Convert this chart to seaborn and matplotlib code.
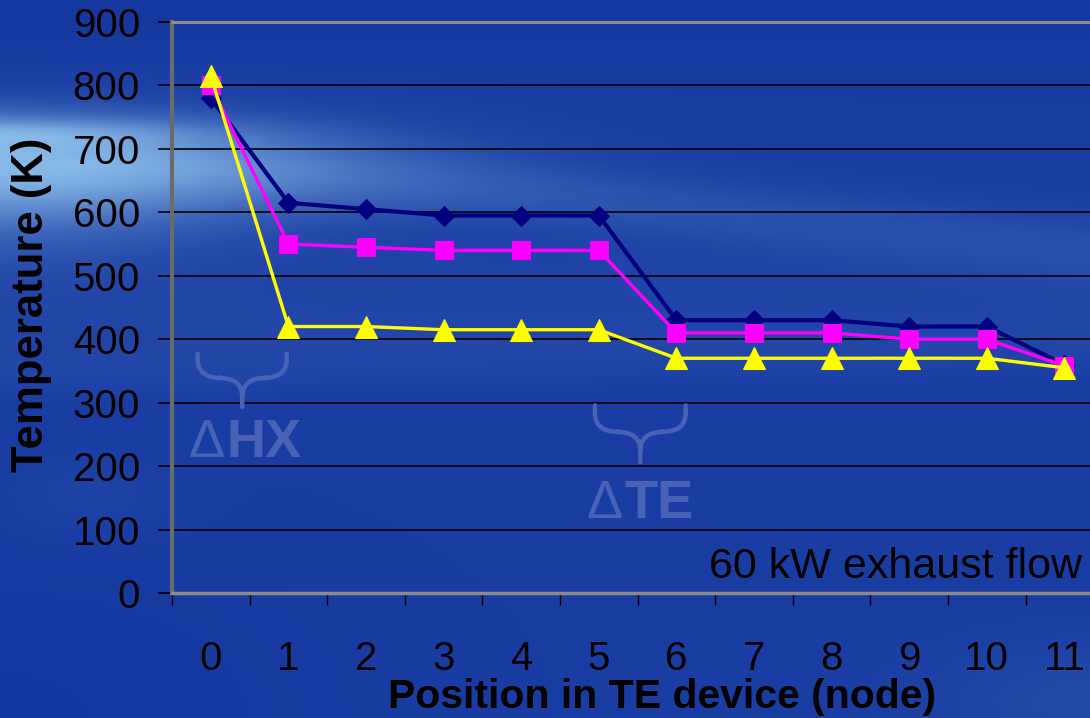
import numpy as np
import pandas as pd
import matplotlib
matplotlib.use("Agg")
import matplotlib.pyplot as plt
from matplotlib.path import Path
from matplotlib.patches import PathPatch
from matplotlib.ticker import FixedLocator
import seaborn as sns

# ---- data -------------------------------------------------------------
nodes = list(range(12))
temp_navy = [780, 615, 605, 595, 595, 595, 430, 430, 430, 420, 420, 360]
temp_magenta = [800, 550, 545, 540, 540, 540, 410, 410, 410, 400, 400, 358]
temp_yellow = [815, 420, 420, 415, 415, 415, 370, 370, 370, 370, 370, 355]
y_ticks = [0, 100, 200, 300, 400, 500, 600, 700, 800, 900]

sns.set_style("white")
plt.rcParams["font.family"] = ["Liberation Sans", "DejaVu Sans"]

W, H = 1090, 718
fig = plt.figure(figsize=(W / 100, H / 100), dpi=100)

# ---- slide-style blue background --------------------------------------
yy, xx = np.mgrid[0:H, 0:W].astype(float)
base = np.array([0.100, 0.240, 0.640])
light = np.array([0.64, 0.85, 0.98])

L = np.zeros((H, W))
# broad glow on the left, trailing off to the right
L += 0.66 * np.exp(-(xx / 330.0) ** 2 - ((yy - 170) / 50.0) ** 2)
L += 0.12 * np.exp(-(xx / 200.0) ** 2 - ((yy - 215) / 60.0) ** 2)
# thin bright streak along the top of the glow
L += 0.25 * np.exp(-(xx / 220.0) ** 2 - ((yy - 132) / 14.0) ** 2)
# diagonal light streak across the upper part
yc = 140 + 0.10 * xx
amp = 0.15 * np.clip(1.0 - (xx - 250) / 2500.0, 0.6, 1.0)
L += amp * np.exp(-((yy - yc) / 32.0) ** 2)
# softer lit band with a soft lower edge
edge = 392 - 0.025 * xx
L += 0.06 / (1 + np.exp(-(edge - yy) / 6.0)) / (1 + np.exp(-(yy - 250) / 25.0))
# faint patches lower down
L += 0.04 * np.exp(-((xx - 90) / 80.0) ** 2 - ((yy - 495) / 40.0) ** 2)
L += 0.08 * np.exp(-((xx - 1090) / 160.0) ** 2 - ((yy - 700) / 60.0) ** 2)
# slightly darker towards the top and bottom-left
L -= 0.03 * np.exp(-(yy / 60.0) ** 2)
L -= 0.04 * np.exp(-(xx / 300.0) ** 2 - ((yy - 718) / 150.0) ** 2)
L = np.clip(L, -0.2, 1.0)
img = base[None, None, :] + L[..., None] * (light - base)[None, None, :]
img = np.clip(img, 0, 1)

bg = fig.add_axes([0, 0, 1, 1], zorder=-1)
bg.imshow(img, aspect="auto", interpolation="bilinear")
bg.set_axis_off()

# ---- plot area --------------------------------------------------------
left_px, right_px, top_px, bot_px = 172, 172 + 12 * 77.6, 22, 593
ax = fig.add_axes([left_px / W, 1 - bot_px / H,
                   (right_px - left_px) / W, (bot_px - top_px) / H], zorder=1)
ax.set_facecolor("none")

df = pd.DataFrame({"node": nodes, "navy": temp_navy,
                   "magenta": temp_magenta, "yellow": temp_yellow})

sns.lineplot(data=df, x="node", y="navy", ax=ax, color="#000080", lw=3.0,
             marker="D", markersize=10.5, markeredgecolor="#000080", zorder=3)
sns.lineplot(data=df, x="node", y="magenta", ax=ax, color="#ff00ff", lw=2.4,
             marker="s", markersize=13, markeredgecolor="#ff00ff", zorder=4)
sns.lineplot(data=df, x="node", y="yellow", ax=ax, color="#ffff00", lw=2.4,
             marker="^", markersize=16, markeredgecolor="#ffff00", zorder=5)

ax.set_xlim(-0.5, 11.5)
ax.set_ylim(0, 900)
ax.yaxis.set_major_locator(FixedLocator(y_ticks))
ax.xaxis.set_major_locator(FixedLocator(nodes))
ax.xaxis.set_minor_locator(FixedLocator([n - 0.5 for n in nodes] + [11.5]))
ax.set_xticklabels([str(n) for n in nodes])

ax.tick_params(axis="y", which="major", direction="out", length=10, width=1.2,
               color="black", labelsize=29, pad=13, left=True)
ax.tick_params(axis="x", which="major", length=0, labelsize=29, pad=34,
               bottom=True)
ax.tick_params(axis="x", which="minor", direction="out", length=8.5,
               width=1.0, color="black", bottom=True)
for lab in ax.get_xticklabels() + ax.get_yticklabels():
    lab.set_color("black")

ax.grid(False)
ax.yaxis.grid(True, color="black", lw=1.2)
ax.set_axisbelow(True)

for side in ("top", "bottom", "left"):
    ax.spines[side].set_visible(True)
ax.spines["left"].set_color("#6a6a6a")
ax.spines["left"].set_linewidth(3.0)
ax.spines["bottom"].set_color("#8a8a8a")
ax.spines["bottom"].set_linewidth(2.5)
ax.spines["top"].set_color("#8a8a8a")
ax.spines["top"].set_linewidth(2.2)
ax.spines["right"].set_visible(False)

ax.set_xlabel("Position in TE device (node)", fontsize=29.5,
              fontweight="bold", color="black")
ax.set_ylabel("Temperature (K)", fontsize=31.5, fontweight="bold",
              color="black")
ax.xaxis.set_label_coords((662 - left_px) / (right_px - left_px),
                          -(697 - bot_px) / (bot_px - top_px))
ax.yaxis.set_label_coords(-(172 - 32) / (right_px - left_px),
                          (bot_px - 305) / (bot_px - top_px))
ax.xaxis.label.set_va("center")
ax.yaxis.label.set_va("center")


# ---- heat-drop braces and labels ---------------------------------------
def brace(axis, x0, x1, ytop, ybar, ybot, color, rx=0.3, ry=30):
    xc = 0.5 * (x0 + x1)
    verts = [(x0, ytop), (x0, ybar + ry), (x0, ybar), (x0 + rx, ybar),
             (xc - rx, ybar), (xc, ybar), (xc, ybar - ry), (xc, ybot),
             (x1, ytop), (x1, ybar + ry), (x1, ybar), (x1 - rx, ybar),
             (xc + rx, ybar), (xc, ybar), (xc, ybar - ry)]
    codes = [Path.MOVETO, Path.LINETO, Path.CURVE3, Path.CURVE3,
             Path.LINETO, Path.CURVE3, Path.CURVE3, Path.LINETO,
             Path.MOVETO, Path.LINETO, Path.CURVE3, Path.CURVE3,
             Path.LINETO, Path.CURVE3, Path.CURVE3]
    axis.add_patch(PathPatch(Path(verts, codes), fill=False, ec=color,
                             lw=3.2, capstyle="round", joinstyle="round",
                             zorder=2, clip_on=False))


def delta_label(axis, x_split, y_base, name, color):
    axis.text(x_split - 0.015, y_base, "Δ", fontsize=39, fontweight="normal",
              color=color, ha="right", va="baseline", zorder=2)
    axis.text(x_split + 0.015, y_base, name, fontsize=39, fontweight="bold",
              color=color, ha="left", va="baseline", zorder=2)


faint = "#4a62b5"
brace(ax, -0.17, 0.98, 377, 339, 293, faint)
brace(ax, 4.95, 6.12, 296, 254, 206, faint)
delta_label(ax, 0.19, 214, "HX", faint)
delta_label(ax, 5.32, 119, "TE", faint)

fig.text(1082 / W, 1 - 578 / H, "60 kW exhaust flow", fontsize=31,
         color="black", ha="right", va="baseline")

fig.savefig("out.png", dpi=100)
